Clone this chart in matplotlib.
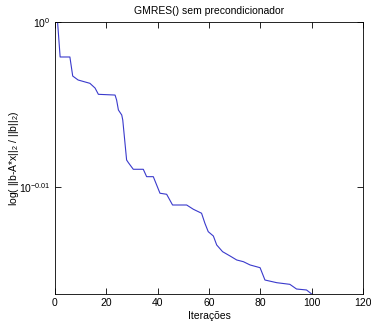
import matplotlib
matplotlib.use("Agg")
import matplotlib.pyplot as plt
from matplotlib.ticker import FixedLocator, NullLocator, FixedFormatter

plt.rcParams['font.family'] = ['Liberation Sans', 'DejaVu Sans']
plt.rcParams['mathtext.fontset'] = 'custom'
plt.rcParams['mathtext.rm'] = 'Liberation Sans'
plt.rcParams['mathtext.it'] = 'Liberation Sans'

iterations = [1, 2, 5.8, 6.9, 9, 13.6, 15.6, 16.9, 23.4, 24, 24.7, 26, 26.4, 27.9, 28.6,
              30.5, 34.4, 35.7, 38.3, 40.9, 43.5, 45.8, 51.3, 53.9, 57.1, 58.4, 59.7,
              61.7, 63, 65.3, 68.2, 70.8, 73.4, 76, 79.9, 81.8, 86.4, 91.5, 94.1, 98, 100]
residual = [1.0, 0.99513, 0.99513, 0.99249, 0.99194, 0.99148, 0.99083, 0.98996, 0.98986,
            0.98918, 0.98780, 0.98711, 0.98642, 0.98093, 0.98056, 0.97966, 0.97966,
            0.97865, 0.97865, 0.97639, 0.97625, 0.97479, 0.97479, 0.97421, 0.97367,
            0.97231, 0.97117, 0.97058, 0.96937, 0.96846, 0.96788, 0.96734, 0.96711,
            0.96667, 0.96630, 0.96464, 0.96428, 0.96406, 0.96343, 0.96330, 0.96276]
x_ticks = [0, 20, 40, 60, 80, 100, 120]
y_ticks = [10 ** -0.01, 1.0]
y_tick_labels = [r'$10^{-0.01}$', r'$10^{0}$']

fig = plt.figure(figsize=(3.71, 3.23), dpi=100)
ax = fig.add_axes([55 / 371, 1 - 294 / 323, (363 - 55) / 371, (294 - 22) / 323])
ax.semilogy(iterations, residual, color='#3a3acc', linewidth=0.8)
ax.set_xlim(0, 120)
ax.set_ylim(0.96276, 1.0)
ax.xaxis.set_major_locator(FixedLocator(x_ticks))
ax.yaxis.set_major_locator(FixedLocator(y_ticks))
ax.yaxis.set_major_formatter(FixedFormatter(y_tick_labels))
ax.yaxis.set_minor_locator(NullLocator())
ax.xaxis.set_minor_locator(NullLocator())
ax.tick_params(direction='in', length=4, width=0.6, labelsize=7.5,
               top=True, right=True, pad=3)
for s in ax.spines.values():
    s.set_linewidth(0.6)
ax.set_title('GMRES() sem precondicionador', fontsize=7.5, pad=6)
ax.set_xlabel('Iterações', fontsize=7.5, labelpad=2)
ax.set_ylabel(r'log( ||b-A*x||$_2$ / ||b||$_2$)', fontsize=7.5, labelpad=0)
ax.yaxis.set_label_coords(-0.11, 0.5)
fig.savefig('out.png', dpi=100)
